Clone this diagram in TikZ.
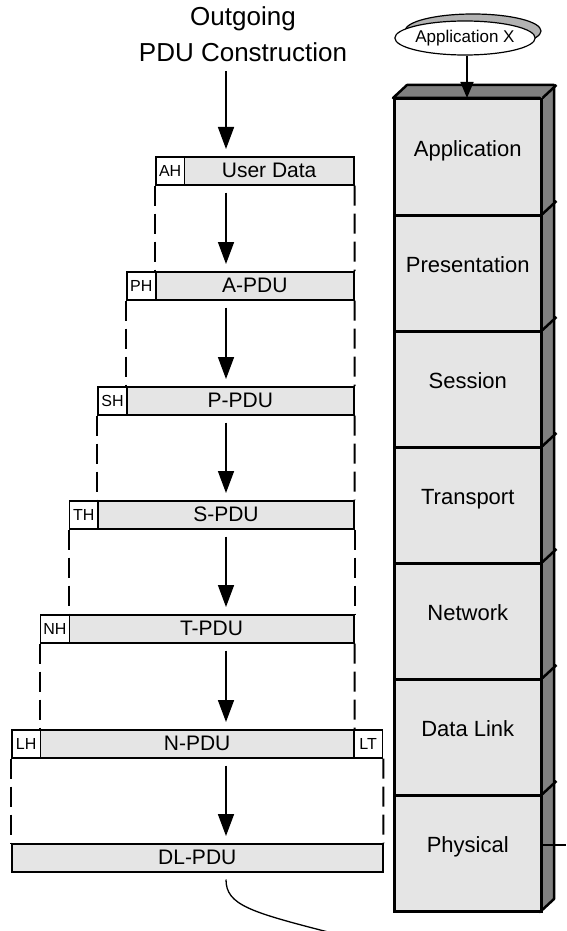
\documentclass[tikz,border=0pt]{standalone}
\usepackage{fontspec}
\setmainfont{Liberation Sans}
\usepackage{tikz}
\usetikzlibrary{arrows.meta, shapes.geometric, positioning}
\definecolor{boxgray}{gray}{0.9}
\definecolor{sidegray}{gray}{0.5}

\begin{document}
\begin{tikzpicture}[x=1pt, y=-1pt,
    pdu/.style={draw, fill=boxgray, line width=1.5pt, minimum height=28pt, inner sep=0pt, anchor=north west, font=\fontsize{21}{21}\selectfont},
    hdr/.style={draw, fill=white, line width=1.5pt, minimum height=28pt, minimum width=28.8pt, inner sep=0pt, anchor=north west, font=\fontsize{16}{16}\selectfont},
    layer/.style={draw, fill=boxgray, line width=2.5pt, minimum width=147pt, minimum height=116pt, inner sep=0pt, anchor=north west, text height=16pt, text depth=18pt, font=\fontsize{22}{22}\selectfont},
    flow/.style={line width=1.6pt, -{Triangle[width=16pt,length=22pt]}, shorten <=7pt, shorten >=7pt},
    guide/.style={line width=2pt, dash pattern=on 20pt off 8pt}]
    \useasboundingbox (0,0) rectangle (566,931);

    % title and arrow axis
    \node[align=center, font=\fontsize{26}{36}\selectfont] (title) at (243,34) {Outgoing\\PDU Construction};
    \coordinate (axis) at (226,0);

    % PDU boxes
    \node[hdr] (ah) at (155,156) {AH};
    \node[pdu, minimum width=169.2pt] (ud) at (183.8,156) {User Data};
    \node[hdr] (ph) at (126.2,271) {PH};
    \node[pdu, minimum width=198pt] (apdu) at (155,271) {A-PDU};
    \node[hdr] (sh) at (97.4,386) {SH};
    \node[pdu, minimum width=226.8pt] (ppdu) at (126.2,386) {P-PDU};
    \node[hdr] (th) at (68.6,500) {TH};
    \node[pdu, minimum width=255.6pt] (spdu) at (97.4,500) {S-PDU};
    \node[hdr] (nh) at (39.8,614) {NH};
    \node[pdu, minimum width=284.4pt] (tpdu) at (68.6,614) {T-PDU};
    \node[hdr] (lh) at (11,729) {LH};
    \node[pdu, minimum width=313.2pt] (npdu) at (39.8,729) {N-PDU};
    \node[hdr] (lt) at (353,729) {LT};
    \node[pdu, minimum width=371pt] (dlpdu) at (11,843) {DL-PDU};

    % arrows down the construction
    \draw[flow, shorten <=6pt] (title.south -| axis) -- (ud.north -| axis);
    \draw[flow] (ud.south -| axis) -- (apdu.north -| axis);
    \draw[flow] (apdu.south -| axis) -- (ppdu.north -| axis);
    \draw[flow] (ppdu.south -| axis) -- (spdu.north -| axis);
    \draw[flow] (spdu.south -| axis) -- (tpdu.north -| axis);
    \draw[flow] (tpdu.south -| axis) -- (npdu.north -| axis);
    \draw[flow] (npdu.south -| axis) -- (dlpdu.north -| axis);

    % dashed guides
    \draw[guide] (ah.south west) -- (apdu.north west);
    \draw[guide] (ud.south east) -- (apdu.north east);
    \draw[guide] (ph.south west) -- (ppdu.north west);
    \draw[guide] (apdu.south east) -- (ppdu.north east);
    \draw[guide] (sh.south west) -- (spdu.north west);
    \draw[guide] (ppdu.south east) -- (spdu.north east);
    \draw[guide] (th.south west) -- (tpdu.north west);
    \draw[guide] (spdu.south east) -- (tpdu.north east);
    \draw[guide] (nh.south west) -- (lh.north west -| nh.west);
    \draw[guide] (tpdu.south east) -- (npdu.north east);
    \draw[guide] (lh.south west) -- (dlpdu.north west);
    \draw[guide] (lt.south east) -- (dlpdu.north east);

    % out to the wire
    \coordinate (wire) at (332,933);
    \draw[line width=1.3pt, shorten <=7pt] (dlpdu.south -| axis) .. controls (226,905) and (250,912) .. (wire);

    % OSI stack: top and side faces
    \draw[line width=2.5pt, fill=sidegray, line join=round] (393,98) -- (407,85) -- (554,85) -- (554,899) -- (540,912) -- (540,98) -- cycle;
    \node[layer] (app) at (393,98) {Application};
    \node[layer] (pres) at (393,214) {Presentation};
    \node[layer] (sess) at (393,330) {Session};
    \node[layer] (trans) at (393,446) {Transport};
    \node[layer] (net) at (393,562) {Network};
    \node[layer] (dl) at (393,678) {Data Link};
    \node[layer] (phy) at (393,794) {Physical};
    \draw[line width=2.5pt] (app.north east) -- ++(14,-13);
    \draw[line width=2.5pt] (pres.north east) -- ++(14,-13);
    \draw[line width=2.5pt] (sess.north east) -- ++(14,-13);
    \draw[line width=2.5pt] (trans.north east) -- ++(14,-13);
    \draw[line width=2.5pt] (net.north east) -- ++(14,-13);
    \draw[line width=2.5pt] (dl.north east) -- ++(14,-13);
    \draw[line width=2.5pt] (phy.north east) -- ++(14,-13);

    % physical link
    \coordinate (phyout) at (566,845);
    \draw[line width=1.5pt] (phy.east |- phyout) -- (phyout);

    % application
    \node[ellipse, draw, fill=sidegray!60, line width=1.2pt, inner sep=0pt, minimum width=136pt, minimum height=34pt] (appxs) at (473,31) {};
    \node[ellipse, draw, fill=white, line width=1.2pt, inner sep=0pt, minimum width=136pt, minimum height=34pt, font=\fontsize{17}{17}\selectfont] (appx) at (465,38) {Application X};
    \draw[line width=1.6pt, -{Triangle[width=13pt,length=16pt]}] (appx.south -| 467,0) -- (app.north -| 467,0);
\end{tikzpicture}
\end{document}
